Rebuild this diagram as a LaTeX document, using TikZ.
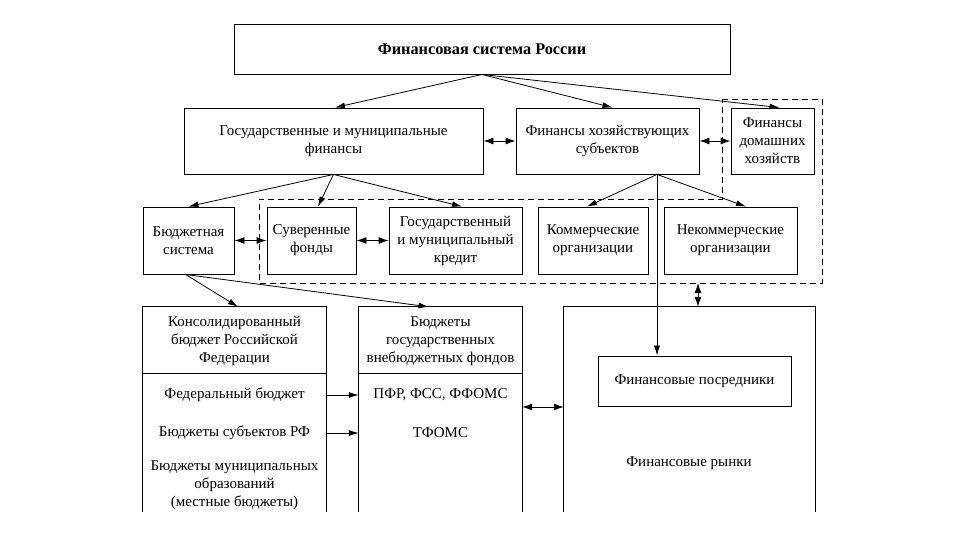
\documentclass[tikz,border=0pt]{standalone}
\usepackage{fontspec}
\setmainfont{Liberation Serif}
\usetikzlibrary{arrows.meta}
\tikzset{
  box/.style={draw, line width=0.9pt, align=center, inner sep=2pt, font=\fontsize{15}{18}\selectfont},
  txt/.style={align=center, inner sep=0pt, font=\fontsize{15}{18}\selectfont},
  area/.style={inner sep=0pt},
  ln/.style={line width=0.9pt},
  arr/.style={line width=0.8pt, -{Latex[length=10pt,width=6pt]}},
  darr/.style={line width=0.9pt, {Latex[length=10pt,width=7pt]}-{Latex[length=10pt,width=7pt]}},
  dsh/.style={line width=0.9pt, dash pattern=on 6pt off 4pt}
}
\begin{document}
\begin{tikzpicture}[x=1pt,y=-1pt]
\fill[white] (0,0) rectangle (960,540);
\useasboundingbox (0,0) rectangle (960,540);

% top
\node[box, minimum width=496pt, minimum height=50pt, font=\fontsize{16.3}{18}\selectfont\bfseries] (title) at (482,49) {Финансовая система России};

% row 2
\node[box, minimum width=299pt, minimum height=66pt] (gmf) at (333.5,141) {Государственные и муниципальные\\финансы};
\node[box, minimum width=183pt, minimum height=66pt] (fhs) at (607.5,141) {Финансы хозяйствующих\\субъектов};
\node[box, minimum width=83pt, minimum height=66pt] (fdh) at (772.5,141) {Финансы\\домашних\\хозяйств};

% row 3
\node[box, minimum width=91pt, minimum height=67pt] (bs) at (188.5,240.5) {Бюджетная\\система};
\node[box, minimum width=89pt, minimum height=67pt] (sf) at (311.5,240.5) {Суверенные\\фонды};
\node[box, minimum width=133pt, minimum height=67pt] (gmk) at (455.5,240.5) {Государственный\\и муниципальный\\кредит};
\node[box, minimum width=110pt, minimum height=67pt] (ko) at (593,240.5) {Коммерческие\\организации};
\node[box, minimum width=133pt, minimum height=67pt] (nko) at (730.5,240.5) {Некоммерческие\\организации};

% dashed region
\coordinate (d1) at (722,99);
\coordinate (d2) at (822,99);
\coordinate (d3) at (822,283);
\coordinate (d4) at (259,283);
\coordinate (d5) at (259,199);
\coordinate (d6) at (722,199);
\draw[dsh] (d1) -- (d2) -- (d3) -- (d4) -- (d5) -- (d6) -- cycle;

% bottom columns (areas)
\node[area, minimum width=183pt, minimum height=66pt] (c1h) at (234.5,340) {};
\node[area, minimum width=183pt, minimum height=139pt] (c1b) at (234.5,442.5) {};
\node[area, minimum width=163pt, minimum height=66pt] (c2h) at (440.5,340) {};
\node[area, minimum width=163pt, minimum height=139pt] (c2b) at (440.5,442.5) {};
\node[area, minimum width=251pt, minimum height=205pt] (c3) at (689.5,409.5) {};

\draw[ln] (c1b.south west) -- (c1h.north west) -- (c1h.north east) -- (c1b.south east);
\draw[ln] (c1h.south west) -- (c1h.south east);
\draw[ln] (c2b.south west) -- (c2h.north west) -- (c2h.north east) -- (c2b.south east);
\draw[ln] (c2h.south west) -- (c2h.south east);
\draw[ln] (c3.south west) -- (c3.north west) -- (c3.north east) -- (c3.south east);

% column texts
\node[txt] (t1) at ([yshift=-1pt]c1h) {Консолидированный\\бюджет Российской\\Федерации};
\node[txt] (t2) at ([yshift=-1pt]c2h) {Бюджеты\\государственных\\внебюджетных фондов};
\node[txt] (fb) at (234.5,395) {Федеральный бюджет};
\node[txt] (bsrf) at (234.5,433) {Бюджеты субъектов РФ};
\node[txt] (bmo) at (234.5,485) {Бюджеты муниципальных\\образований\\(местные бюджеты)};
\node[txt] (pfr) at (440.5,395) {ПФР, ФСС, ФФОМС};
\node[txt] (tfoms) at (440.5,433) {ТФОМС};
\node[box, minimum width=193pt, minimum height=50pt] (fp) at (694.5,381) {Финансовые посредники};
\node[txt] (fr) at (689,463) {Финансовые рынки};

% arrows from title
\draw[arr] (title.south) -- ([xshift=1.5pt]gmf.north);
\draw[arr] (title.south) -- ([xshift=5pt]fhs.north);
\draw[arr] (title.south) -- ([xshift=7pt]fdh.north);

% arrows from gmf
\draw[arr] (gmf.south) -- (bs.north);
\draw[arr] (gmf.south) -- ([xshift=6.5pt]sf.north);
\draw[arr] (gmf.south) -- ([xshift=6.5pt]gmk.north);

% arrows from fhs
\coordinate (fo) at ([xshift=49.5pt]fhs.south);
\draw[arr] (fo) -- ([xshift=-6pt]ko.north);
\draw[arr] (fo) -- ([xshift=15.5pt]nko.north);
\draw[arr] (fo) -- (fo |- fp.north);

% arrows from bs
\draw[arr] ([xshift=-3pt]bs.south) -- ([xshift=3.5pt]c1h.north);
\draw[arr] ([xshift=-3pt]bs.south) -- ([xshift=-12pt]c2h.north);

% double arrows
\draw[darr] (gmf.east) -- (fhs.west);
\draw[darr] (fhs.east) -- (fdh.west);
\draw[darr] (bs.east) -- (sf.west);
\draw[darr] (sf.east) -- (gmk.west);
\coordinate (dv) at (698,283);
\draw[darr] (dv) -- (dv |- c3.north);
\draw[darr] (c2b.east |- 0,407) -- (c3.west |- 0,407);

% budget arrows
\draw[arr] (c1b.east |- fb) -- (c2b.west |- fb);
\draw[arr] (c1b.east |- bsrf) -- (c2b.west |- bsrf);
\end{tikzpicture}
\end{document}
